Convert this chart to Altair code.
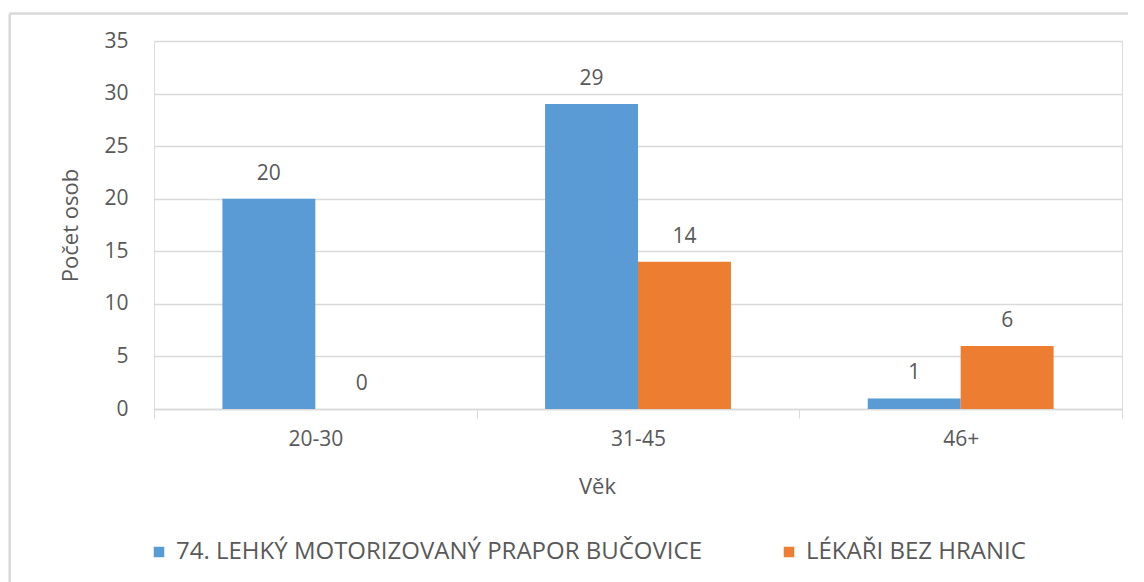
import altair as alt
import pandas as pd

categories = ["20-30", "31-45", "46+"]
series = ["74. LEHKÝ MOTORIZOVANÝ PRAPOR BUČOVICE", "LÉKAŘI BEZ HRANIC"]
values_a = [20, 29, 1]
values_b = [0, 14, 6]
colors = ["#5B9BD5", "#ED7D31"]
y_ticks = [0, 5, 10, 15, 20, 25, 30, 35]

rows = []
for c, v in zip(categories, values_a):
    rows.append({"Věk": c, "series": series[0], "value": v})
for c, v in zip(categories, values_b):
    rows.append({"Věk": c, "series": series[1], "value": v})
df = pd.DataFrame(rows)

FONT = "Open Sans"
GRAY = "#595959"
LINE = "#D9D9D9"
W, H = 968, 368

x_enc = alt.X(
    "Věk:N",
    sort=categories,
    scale=alt.Scale(paddingInner=0, paddingOuter=0),
    axis=alt.Axis(
        title="Věk",
        labelAngle=0,
        tickBand="extent",
        tickSize=9,
        tickColor=LINE,
        domainColor=LINE,
        domainWidth=1.5,
        labelFontSize=21,
        labelColor=GRAY,
        labelFont=FONT,
        labelPadding=10,
        titleFont=FONT,
        titleFontSize=22,
        titleFontWeight="normal",
        titleColor=GRAY,
        titleX=443,
        titleY=77,
        titleBaseline="middle",
        titleAlign="center",
        grid=False,
    ),
)
xo_enc = alt.XOffset(
    "series:N", sort=series, scale=alt.Scale(paddingInner=0, paddingOuter=0.736)
)
y_enc = alt.Y(
    "value:Q",
    scale=alt.Scale(domain=[0, 35], nice=False),
    axis=alt.Axis(
        title="Počet osob",
        values=y_ticks,
        grid=True,
        gridColor=LINE,
        gridWidth=1.5,
        domain=False,
        ticks=False,
        labelPadding=26,
        labelFontSize=21,
        labelColor=GRAY,
        labelFont=FONT,
        titleFont=FONT,
        titleFontSize=22,
        titleFontWeight="normal",
        titleColor=GRAY,
        titleX=-84,
        titleY=184,
        titleAngle=-90,
        titleAlign="center",
        titleBaseline="middle",
    ),
)
color_enc = alt.Color(
    "series:N",
    sort=series,
    scale=alt.Scale(domain=series, range=colors),
    legend=alt.Legend(
        title=None,
        orient="none",
        direction="horizontal",
        legendX=-7,
        legendY=499,
        symbolType="square",
        symbolSize=110,
        symbolStrokeWidth=0,
        symbolOpacity=1,
        labelFont=FONT,
        labelFontSize=24,
        labelColor=GRAY,
        labelOffset=5,
        labelLimit=800,
        columnPadding=75,
        padding=0,
    ),
)

bars = alt.Chart(df).mark_bar(opacity=1).encode(
    x=x_enc, xOffset=xo_enc, y=y_enc, color=color_enc
)
labels = alt.Chart(df).mark_text(
    dy=-25, baseline="middle", font=FONT, fontSize=21, color=GRAY
).encode(x=x_enc, xOffset=xo_enc, y=y_enc, text="value:Q")

frame_data = alt.Data(values=[{"k": 1}])
frame_left = alt.Chart(frame_data).mark_rule(color=LINE, strokeWidth=2.5).encode(
    x=alt.value(-144.3), y=alt.value(-27.5), y2=alt.value(H + 175)
)
frame_top = alt.Chart(frame_data).mark_rule(color=LINE, strokeWidth=2.5).encode(
    x=alt.value(-144.3), x2=alt.value(W + 30), y=alt.value(-27.5)
)

chart = (
    alt.layer(bars, labels, frame_left, frame_top)
    .properties(
        width=W,
        height=H,
        autosize=alt.AutoSizeParams(type="none"),
        padding={"left": 146, "top": 33, "right": 6, "bottom": 173},
    )
    .configure_view(stroke=None)
    .configure(background="white")
)

chart.save("out.html", embed_options={"renderer": "svg", "actions": False})
